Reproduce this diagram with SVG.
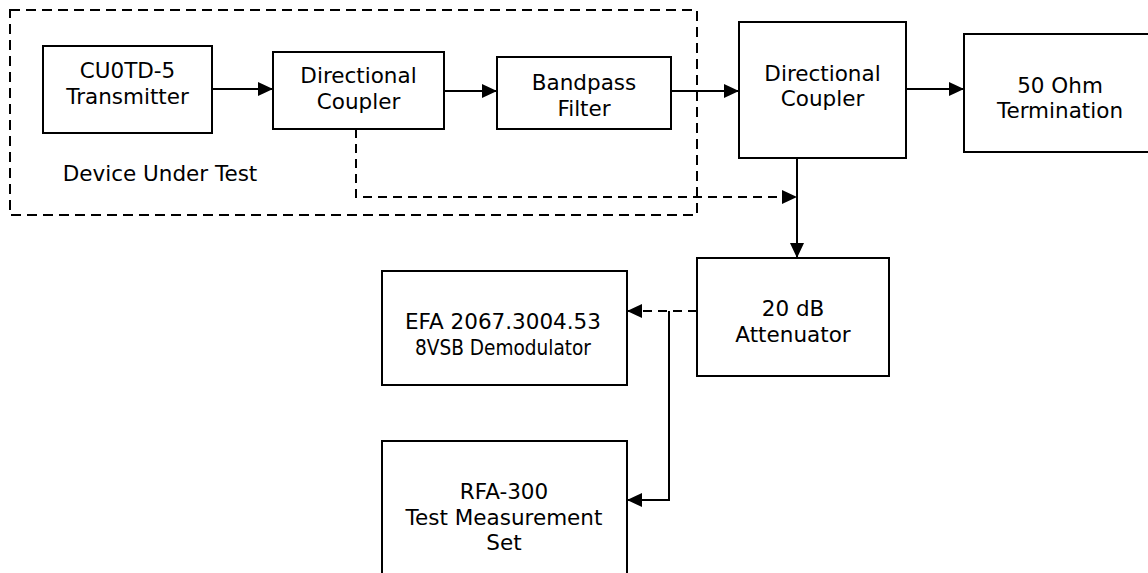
<svg xmlns="http://www.w3.org/2000/svg" width="1148" height="573" viewBox="0 0 1148 573">
<style>
.box{fill:#fff;stroke:#000;stroke-width:2}
.t{font-family:"DejaVu Sans","Verdana",sans-serif;font-size:21.5px;fill:#000;text-anchor:middle}
.c{fill:none;stroke:#000;stroke-width:2}
.d{stroke-dasharray:9 6}
</style>
<defs>
<marker id="ah" markerUnits="userSpaceOnUse" markerWidth="15" markerHeight="14" refX="15" refY="7" orient="auto">
<path d="M0,0 L15,7 L0,14 z" fill="#000"/>
</marker>
</defs>
<rect width="1148" height="573" fill="#fff"/>
<g id="dut">
<rect x="10" y="10" width="687" height="205" fill="none" stroke="#000" stroke-width="2" stroke-dasharray="10 6"/>
<text class="t" x="160" y="181">Device Under Test</text>
</g>
<g id="connectors">
<path class="c" d="M212,89 L273,89" marker-end="url(#ah)"/>
<path class="c" d="M444,91 L497,91" marker-end="url(#ah)"/>
<path class="c" d="M671,91 L739,91" marker-end="url(#ah)"/>
<path class="c" d="M906,89 L964,89" marker-end="url(#ah)"/>
<path class="c d" d="M356,129 L356,197 L797,197" marker-end="url(#ah)"/>
<path class="c" d="M797,158 L797,258" marker-end="url(#ah)"/>
<path class="c d" d="M697,311 L627,311" marker-end="url(#ah)"/>
<path class="c" d="M669,311 L669,500 L627,500" marker-end="url(#ah)"/>
</g>
<g id="transmitter">
<rect class="box" x="43" y="46" width="169" height="87"/>
<text class="t" x="127.5" y="78">CU0TD-5</text>
<text class="t" x="127.5" y="104">Transmitter</text>
</g>
<g id="coupler1">
<rect class="box" x="273" y="52" width="171" height="77"/>
<text class="t" x="358.5" y="83">Directional</text>
<text class="t" x="358.5" y="109">Coupler</text>
</g>
<g id="bandpass">
<rect class="box" x="497" y="57" width="174" height="72"/>
<text class="t" x="584" y="90">Bandpass</text>
<text class="t" x="584" y="116">Filter</text>
</g>
<g id="coupler2">
<rect class="box" x="739" y="22" width="167" height="136"/>
<text class="t" x="822.5" y="81">Directional</text>
<text class="t" x="822.5" y="106">Coupler</text>
</g>
<g id="termination">
<rect class="box" x="964" y="34" width="190" height="118"/>
<text class="t" x="1060" y="93">50 Ohm</text>
<text class="t" x="1060" y="118">Termination</text>
</g>
<g id="attenuator">
<rect class="box" x="697" y="258" width="192" height="118"/>
<text class="t" x="793" y="316">20 dB</text>
<text class="t" x="793" y="342">Attenuator</text>
</g>
<g id="efa">
<rect class="box" x="382" y="271" width="245" height="114"/>
<text class="t" x="503" y="329">EFA 2067.3004.53</text>
<text class="t" x="503" y="355" textLength="176" lengthAdjust="spacingAndGlyphs">8VSB Demodulator</text>
</g>
<g id="rfa">
<rect class="box" x="382" y="441" width="245" height="150"/>
<text class="t" x="504" y="499">RFA-300</text>
<text class="t" x="504" y="525">Test Measurement</text>
<text class="t" x="504" y="550">Set</text>
</g>
</svg>
